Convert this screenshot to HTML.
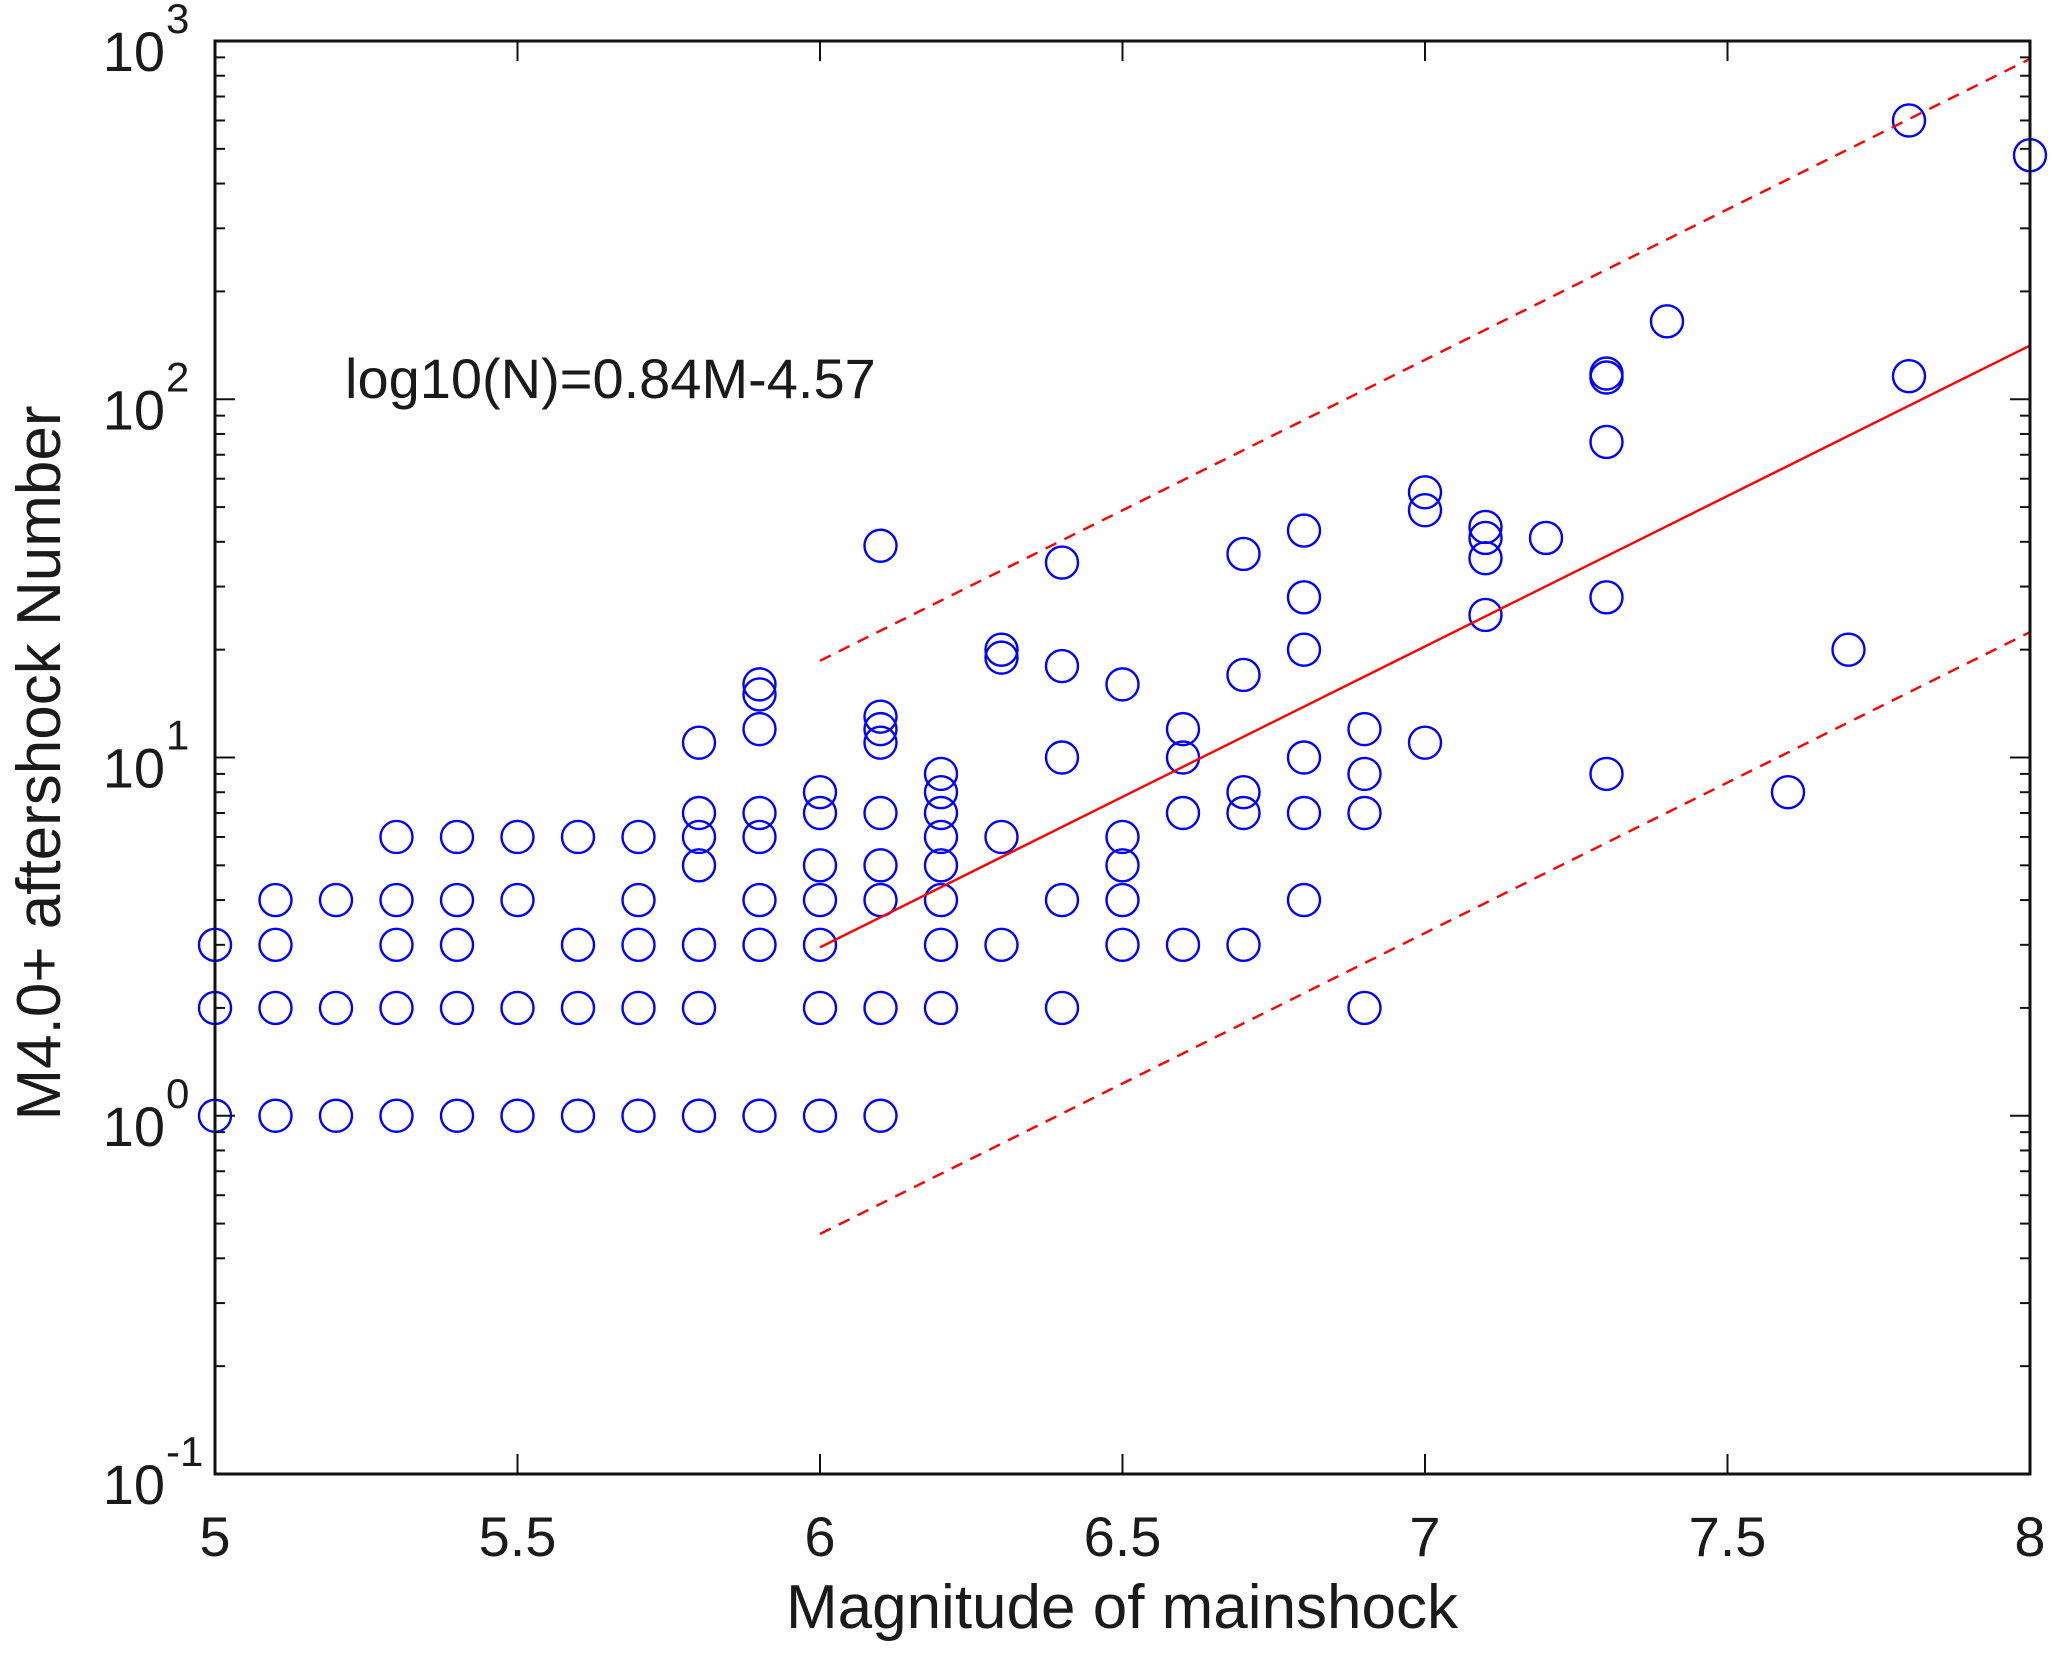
<!DOCTYPE html>
<html><head><meta charset="utf-8"><style>body{margin:0;background:#fff}svg{display:block}text{font-family:"Liberation Sans",Arial,sans-serif;fill:#1a1a1a}</style></head>
<body>
<svg id="chart" width="2067" height="1664" viewBox="0 0 2067 1664" xmlns="http://www.w3.org/2000/svg">
<g id="marks"></g>
<g id="axes"></g>
<text x="345" y="398" font-size="56">log10(N)=0.84M-4.57</text>
<text x="1122" y="1628" font-size="62" text-anchor="middle">Magnitude of mainshock</text>
<text transform="translate(60,763) rotate(-90)" font-size="62" text-anchor="middle">M4.0+ aftershock Number</text>
</svg>
<script>
const magnitudes=[5.0,5.1,5.2,5.3,5.4,5.5,5.6,5.7,5.8,5.9,6.0,6.1,6.2,6.3,6.4,6.5,6.6,6.7,6.8,6.9,7.0,7.1,7.2,7.3,7.4,7.6,7.7,7.8,8.0];
const counts=[[3,2,1],[4,3,2,1],[4,2,1],[6,4,3,2,1],[6,4,3,2,1],[6,4,2,1],[6,3,2,1],[6,4,3,2,1],[11,7,6,5,3,2,1],[16,15,12,7,6,4,3,1],[8,7,5,4,3,2,1],[39,13,12,11,7,5,4,2,1],[9,8,7,6,5,4,3,2],[20,19,6,3],[35,18,10,4,2],[16,6,5,4,3],[12,10,7,3],[37,17,8,7,3],[43,28,20,10,7,4],[12,9,7,2],[55,49,11],[44,41,36,25],[41],[118,115,76,28,9],[165],[8],[20],[600,116],[480]];
const fitSlope=0.84, fitIntercept=-4.57, bandOffset=0.8, fitRange=[6,8];
const xTicks=[5,5.5,6,6.5,7,7.5,8];
const xTickLabels=["5","5.5","6","6.5","7","7.5","8"];
const yDecades=[-1,0,1,2,3];

const NS="http://www.w3.org/2000/svg";
const L=215,R=2030,T=41,B=1474;
const xs=v=>L+(v-5)/3*(R-L);
const ys=v=>B-(Math.log10(v)+1)/4*(B-T);
function mk(tag,attrs,parent){const e=document.createElementNS(NS,tag);for(const k in attrs)e.setAttribute(k,attrs[k]);parent.appendChild(e);return e;}
const marks=document.getElementById('marks'), axes=document.getElementById('axes');
magnitudes.forEach((m,i)=>counts[i].forEach(c=>{
  const el=mk('circle',{cx:xs(m),cy:ys(c),r:16,fill:'none',stroke:'#0000ff','stroke-width':2.4},marks);
  
  
}));
[[0,'none','fit-line'],[bandOffset,'12,9','upper-bound-line'],[-bandOffset,'12,9','lower-bound-line']].forEach(([off,dash,name])=>{
  const y0=Math.pow(10,fitSlope*fitRange[0]+fitIntercept+off), y1=Math.pow(10,fitSlope*fitRange[1]+fitIntercept+off);
  const el=mk('line',{x1:xs(fitRange[0]),y1:ys(y0),x2:xs(fitRange[1]),y2:ys(y1),stroke:'#ff0000','stroke-width':2.4,'stroke-dasharray':dash},marks);
  
  
});
const box=mk('rect',{x:L,y:T,width:R-L,height:B-T,fill:'none',stroke:'#111','stroke-width':3},axes);


xTicks.forEach((t,i)=>{
  const x=xs(t);
  mk('line',{x1:x,y1:B,x2:x,y2:B-20,stroke:'#111','stroke-width':2},axes);
  mk('line',{x1:x,y1:T,x2:x,y2:T+20,stroke:'#111','stroke-width':2},axes);
  const tx=mk('text',{x:x,y:1556,'font-size':56,'text-anchor':'middle'},axes);
  tx.textContent=xTickLabels[i];
  
  
});
yDecades.forEach(d=>{
  const y=ys(Math.pow(10,d));
  mk('line',{x1:L,y1:y,x2:L+20,y2:y,stroke:'#111','stroke-width':2},axes);
  mk('line',{x1:R,y1:y,x2:R-20,y2:y,stroke:'#111','stroke-width':2},axes);
  if(d<3)for(let k=2;k<10;k++){const yy=ys(k*Math.pow(10,d));
    mk('line',{x1:L,y1:yy,x2:L+10,y2:yy,stroke:'#111','stroke-width':2},axes);
    mk('line',{x1:R,y1:yy,x2:R-10,y2:yy,stroke:'#111','stroke-width':2},axes);}
  const tx=mk('text',{x:165,y:y+30,'font-size':56,'text-anchor':'end'},axes);
  tx.textContent='10';
  
  
  const sp=mk('text',{x:166,y:y-8,'font-size':42},axes);
  sp.textContent=d<0?'-1':String(d);
  
  
});
</script>
</body></html>
